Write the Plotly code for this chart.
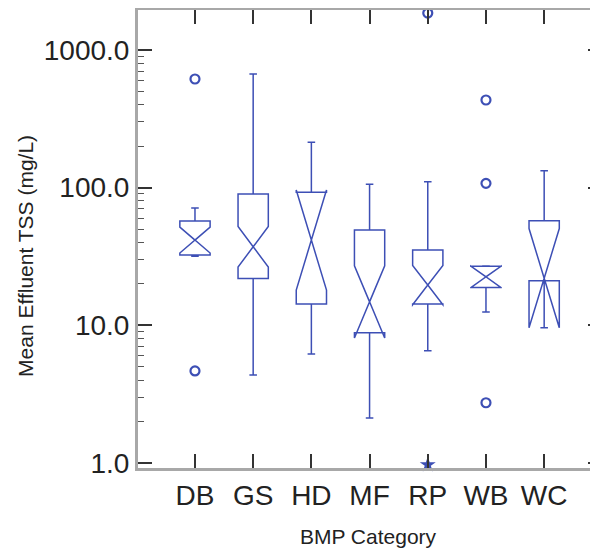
import numpy as np
import plotly.graph_objects as go

# BMP categories and box statistics (mean effluent TSS, mg/L)
categories = ["DB", "GS", "HD", "MF", "RP", "WB", "WC"]
lower_whisker = [31.8, 4.36, 6.19, 2.12, 6.54, 12.5, 18.9]
q1 = [32.4, 21.9, 14.3, 8.84, 14.3, 18.8, 21.1]
median = [41.6, 37.2, 41.6, 14.8, 19.6, 22.5, 22.0]
q3 = [57.2, 89.9, 92.4, 49.2, 35.2, 26.9, 57.5]
upper_whisker = [71.1, 668.0, 214.0, 105.7, 110.4, 26.9, 132.7]
notch_low = [33.5, 26.5, 18.0, 8.1, 14.1, 18.8, 9.6]
notch_high = [51.7, 52.3, 96.0, 27.1, 27.2, 26.9, 50.4]

# outliers
out_cat = ["DB", "DB", "RP", "WB", "WB", "WB"]
out_val = [615.0, 4.66, 1853.0, 433.0, 107.4, 2.74]
extreme_cat = ["RP"]
extreme_val = [0.97]

tick_vals = [1, 10, 100, 1000]
tick_text = ["1.0", "10.0", "100.0", "1000.0"]

blue = "#3d4fb5"
frame = "#a8a8a8"
font = "Liberation Sans, Arial, sans-serif"

# notched boxes are drawn on log10 units so the notches stay symmetric
lg = np.log10
span = (lg(notch_high) - lg(notch_low)) / 2

fig = go.Figure()
fig.add_trace(go.Box(
    x=categories,
    q1=lg(q1), median=lg(median), q3=lg(q3),
    lowerfence=lg(lower_whisker), upperfence=lg(upper_whisker),
    notchspan=span, notched=True, notchwidth=0.5,
    width=0.52, whiskerwidth=0.25,
    boxpoints=False,
    line=dict(color=blue, width=1.5),
    fillcolor="rgba(0,0,0,0)",
    showlegend=False, hoverinfo="skip",
))
fig.add_trace(go.Scatter(
    x=out_cat, y=lg(out_val), mode="markers",
    marker=dict(symbol="circle-open", size=9, color=blue, line=dict(width=2.2, color=blue)),
    cliponaxis=False, showlegend=False,
))
fig.add_trace(go.Scatter(
    x=extreme_cat, y=lg(extreme_val), mode="markers",
    marker=dict(symbol="star", size=12, color=blue),
    cliponaxis=False, showlegend=False,
))
# dummy trace so the right-hand tick axis is drawn
fig.add_trace(go.Scatter(x=[categories[0]], y=[0], yaxis="y2", mode="markers",
                         marker=dict(opacity=0), showlegend=False, hoverinfo="skip"))

minor_vals = [np.log10(m * 10 ** k) for k in range(-1, 4) for m in range(2, 10)]
yrange = [-0.0363, 3.290]

fig.update_layout(
    template="none",
    width=590, height=546,
    margin=dict(l=130, r=0, t=2, b=86, autoexpand=False),
    paper_bgcolor="white", plot_bgcolor="white",
    font=dict(family=font, color="#222"),
    xaxis=dict(
        type="category", categoryorder="array", categoryarray=categories,
        range=[-0.979, 6.925], showgrid=False, zeroline=False, automargin=False,
        showline=True, linecolor=frame, linewidth=3, mirror="ticks",
        ticks="inside", ticklen=14, tickwidth=1.5, tickcolor="#333",
        tickfont=dict(size=28, family=font, color="#222"),
        title=dict(text="BMP Category", font=dict(size=21, family=font, color="#222"), standoff=20),
    ),
    yaxis=dict(
        range=yrange, showgrid=False, zeroline=False, automargin=False,
        tickmode="array", tickvals=list(np.log10(tick_vals)), ticktext=tick_text,
        showline=True, linecolor=frame, linewidth=3,
        ticks="inside", ticklen=14, tickwidth=1.5, tickcolor="#333",
        tickfont=dict(size=28, family=font, color="#222"),
        minor=dict(tickmode="array", tickvals=minor_vals, ticks="inside",
                   ticklen=6, tickwidth=1.2, tickcolor="#555", showgrid=False),
    ),
    yaxis2=dict(
        overlaying="y", side="right", range=yrange, showgrid=False, zeroline=False,
        automargin=False,
        tickmode="array", tickvals=list(np.log10(tick_vals)), showticklabels=False,
        showline=False, ticks="inside", ticklen=10, tickwidth=1.5, tickcolor="#333",
        minor=dict(tickmode="array", tickvals=minor_vals, ticks="inside",
                   ticklen=4, tickwidth=1.2, tickcolor="#555", showgrid=False),
    ),
    annotations=[dict(
        text="Mean Effluent TSS (mg/L)", textangle=-90, showarrow=False,
        xref="paper", yref="paper", x=-0.2435, y=0.463,
        xanchor="center", yanchor="middle",
        font=dict(size=21, family=font, color="#222"),
    )],
)

fig.write_html("out.html")
